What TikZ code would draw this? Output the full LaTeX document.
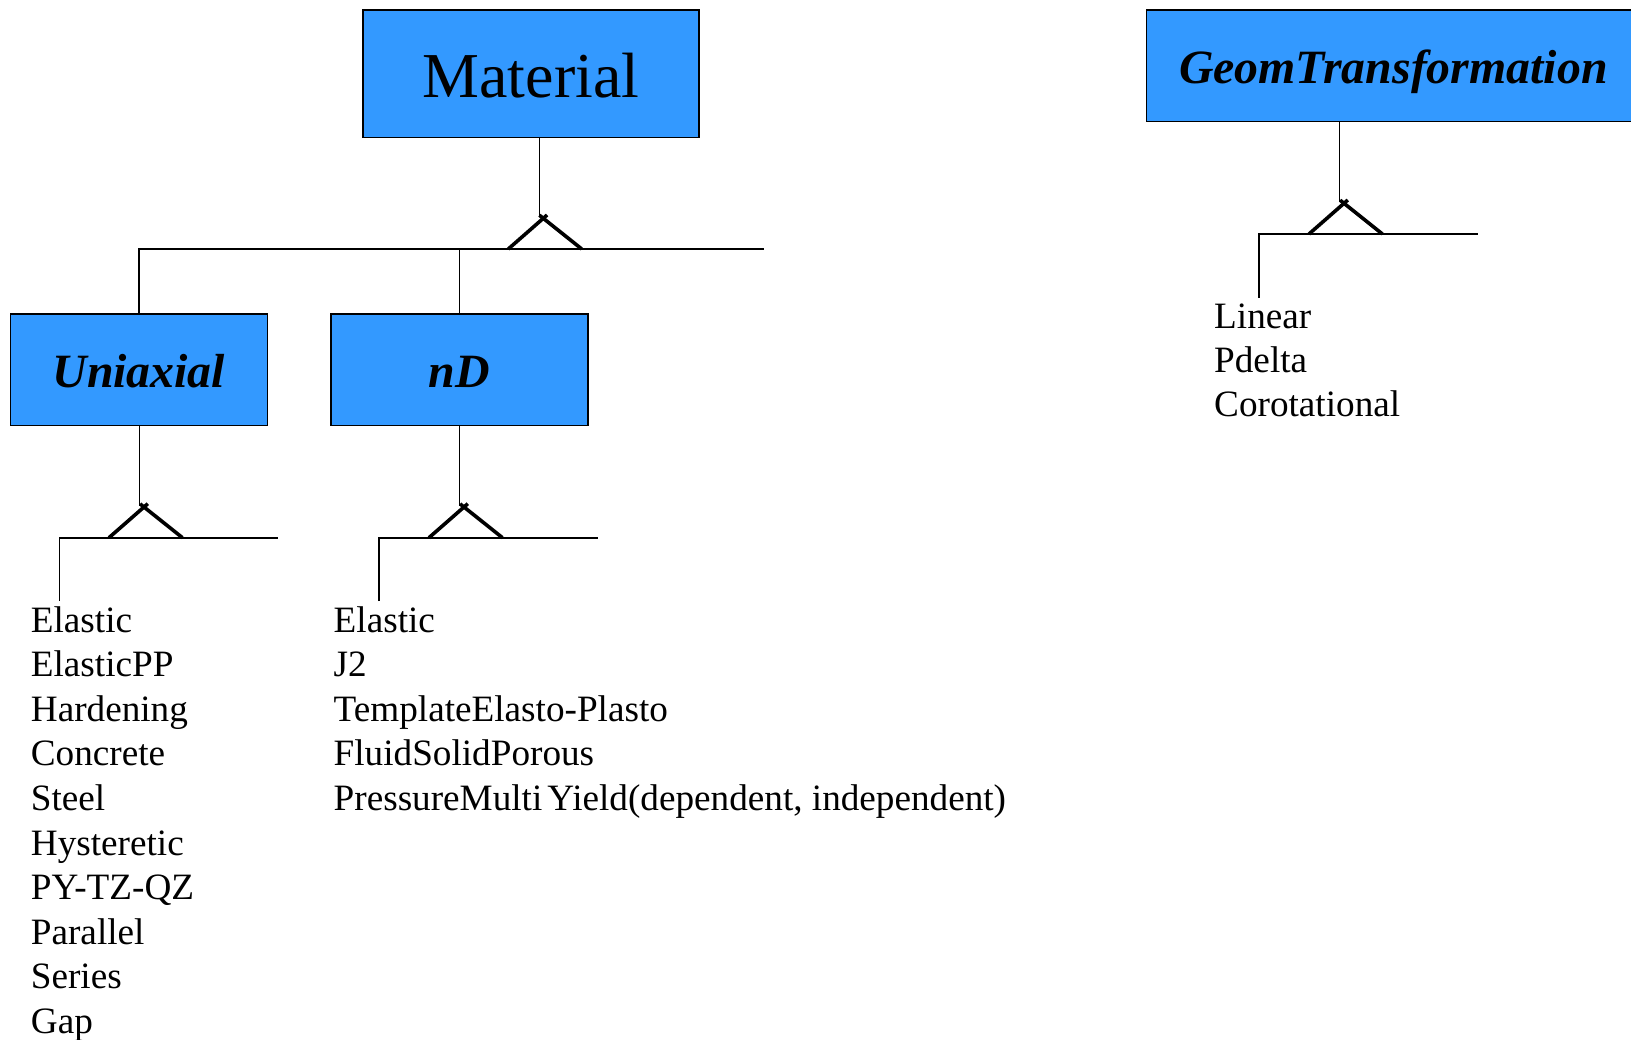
\documentclass[tikz,border=0pt]{standalone}
\usepackage{fontspec}
\setmainfont{Liberation Serif}
\usetikzlibrary{calc}
\definecolor{boxblue}{RGB}{51,153,255}
\newcommand{\inhsym}[1]{%
  \draw[inh] ($(#1)+(-35,30.7)$) -- ($(#1)+(3.8,-3.3)$);
  \draw[inh] ($(#1)+(38.4,30.7)$) -- ($(#1)+(-3.9,-3.1)$);
}
\begin{document}
\begin{tikzpicture}[x=1pt,y=-1pt,
  classbox/.style={draw=black,line width=1.5pt,fill=boxblue,inner sep=0pt},
  conn/.style={line width=1.4pt},
  inh/.style={line width=3.6pt},
  item/.style={anchor=base west,inner sep=0pt,font=\fontsize{37.2}{44}\selectfont},
  bigtitle/.style={font=\fontsize{64}{70}\selectfont},
  subtitle/.style={font=\fontsize{47.8}{52}\selectfont\bfseries\itshape}]
\useasboundingbox (0,0) rectangle (1631,1040);
\clip (0,0) rectangle (1631,1040);

% class boxes
\node[classbox,bigtitle,minimum width=336pt,minimum height=127.5pt,text height=48.6pt,text depth=0pt] (material) at (531,73.7) {Material};
\node[classbox,subtitle,minimum width=257pt,minimum height=111.5pt,text height=36pt,text depth=0pt] (uniaxial) at (138.85,369.75) {Uniaxial};
\node[classbox,subtitle,minimum width=257pt,minimum height=111.5pt,text height=36pt,text depth=0pt] (nd) at (459.25,369.75) {nD};
\node[classbox,subtitle,minimum width=493.3pt,minimum height=111.7pt,text height=36pt,text depth=0pt] (geom) at (1393.35,65.85) {GeomTransformation};

% Material inheritance
\coordinate (mTop) at (539.3,217);
\coordinate (mApex) at (543.3,218.3);
\coordinate (mBarR) at (763.5,249);
\draw[conn] (material.south -| mTop) -- (mTop);
\inhsym{mApex}
\draw[conn] (uniaxial.north) |- (mBarR);
\draw[conn] (nd.north) -- (nd.north |- mBarR);

% Uniaxial inheritance
\coordinate (uTop) at (139.3,506);
\coordinate (uApex) at (144,507);
\coordinate (uBarL) at (59.3,537.8);
\coordinate (uBarR) at (278.3,537.8);
\coordinate (uDrop) at (59.3,601);
\draw[conn] (uniaxial.south -| uTop) -- (uTop);
\inhsym{uApex}
\draw[conn] (uDrop) -- (uBarL) -- (uBarR);

% nD inheritance
\coordinate (nTop) at (459.3,506);
\coordinate (nApex) at (464,507);
\coordinate (nBarL) at (379,537.8);
\coordinate (nBarR) at (598.3,537.8);
\coordinate (nDrop) at (379,601);
\draw[conn] (nd.south -| nTop) -- (nTop);
\inhsym{nApex}
\draw[conn] (nDrop) -- (nBarL) -- (nBarR);

% GeomTransformation inheritance
\coordinate (gTop) at (1339.3,202);
\coordinate (gApex) at (1344,203.3);
\coordinate (gBarL) at (1259,234);
\coordinate (gBarR) at (1478,234);
\coordinate (gDrop) at (1259,297.7);
\draw[conn] (geom.south -| gTop) -- (gTop);
\inhsym{gApex}
\draw[conn] (gDrop) -- (gBarL) -- (gBarR);

% lists
\foreach \t [count=\i] in {Elastic,ElasticPP,Hardening,Concrete,Steel,Hysteretic,PY-TZ-QZ,Parallel,Series,Gap}
  \node[item] (u\i) at (30.7,{632+44.6*(\i-1)}) {\t};
\foreach \t [count=\i] in {Elastic,J2,TemplateElasto-Plasto,FluidSolidPorous,{PressureMulti\kern5pt Yield(dependent, independent)}}
  \node[item] (n\i) at (333.5,{632+44.6*(\i-1)}) {\t};
\foreach \t [count=\i] in {Linear,Pdelta,Corotational}
  \node[item] (g\i) at (1214,{328.3+44.2*(\i-1)}) {\t};
\end{tikzpicture}
\end{document}
